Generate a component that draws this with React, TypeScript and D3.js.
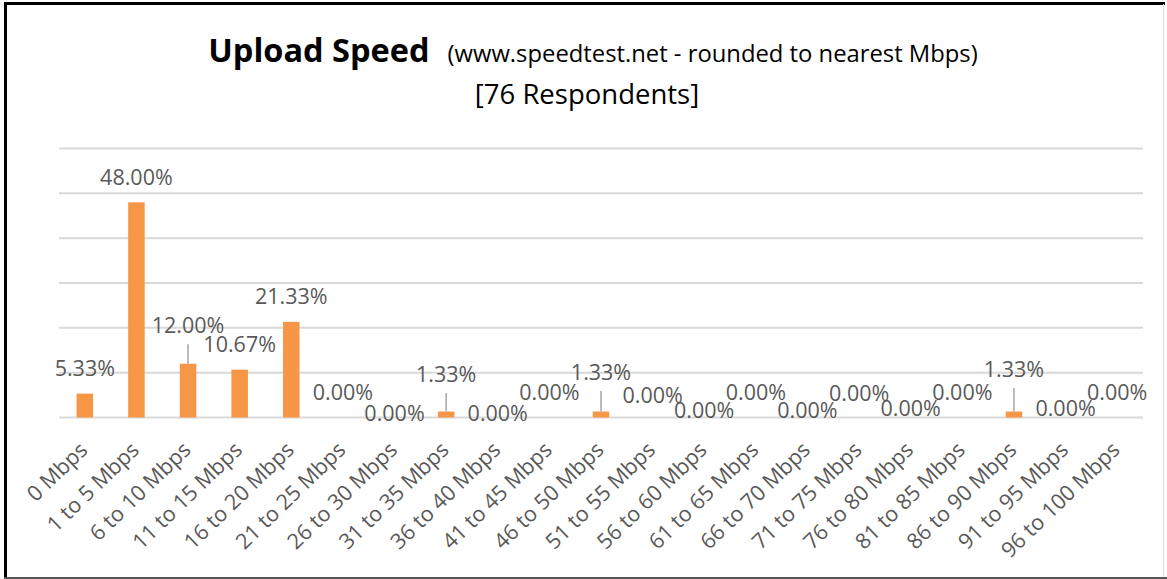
import React from "react";
import * as d3 from "d3";

const categories = [
  "0 Mbps", "1 to 5 Mbps", "6 to 10 Mbps", "11 to 15 Mbps", "16 to 20 Mbps",
  "21 to 25 Mbps", "26 to 30 Mbps", "31 to 35 Mbps", "36 to 40 Mbps", "41 to 45 Mbps",
  "46 to 50 Mbps", "51 to 55 Mbps", "56 to 60 Mbps", "61 to 65 Mbps", "66 to 70 Mbps",
  "71 to 75 Mbps", "76 to 80 Mbps", "81 to 85 Mbps", "86 to 90 Mbps", "91 to 95 Mbps",
  "96 to 100 Mbps",
];
const values = [5.33, 48.0, 12.0, 10.67, 21.33, 0, 0, 1.33, 0, 0, 1.33, 0, 0, 0, 0, 0, 0, 0, 1.33, 0, 0];
const yTicks = [0, 10, 20, 30, 40, 50, 60];

const titleMain = "Upload Speed";
const titleSub = "(www.speedtest.net - rounded to nearest Mbps)";
const titleLine2 = "[76 Respondents]";

// layout: manual data-label nudges (px, + = down) as placed in the original
const labelShift = [0, 0, -13, 0, 0, 0, 21, -12, 21, 0, -14, 3, 18, 0, 18, 1, 16, 0, -17, 16, 0];

const W = 1167;
const H = 579;
const plot = { left: 59, right: 1143, top: 148.5, bottom: 417.5 };
const FONT = "'Open Sans', 'DejaVu Sans', sans-serif";
const labelColor = "#595959";
const barColor = "#F79646";
const gridColor = "#D9D9D9";

export default function App() {
  const x = d3
    .scaleBand<string>()
    .domain(categories)
    .range([plot.left, plot.right])
    .paddingInner(0.68)
    .paddingOuter(0.34);
  const y = d3.scaleLinear().domain([0, 60]).range([plot.bottom, plot.top]);
  const fmt = (v: number) => v.toFixed(2) + "%";

  return (
    <svg
      width={W}
      height={H}
      style={{ position: "absolute", left: 0, top: 0, background: "#fff" }}
    >
      <rect x={0} y={0} width={W} height={H} fill="#fff" />
      {/* frame */}
      <line x1={5.5} y1={2} x2={5.5} y2={579} stroke="#000" strokeWidth={3} />
      <line x1={4} y1={3.5} x2={1165} y2={3.5} stroke="#000" strokeWidth={3} />
      <line x1={4} y1={578} x2={1167} y2={578} stroke="#555" strokeWidth={2} />
      <line x1={1163.5} y1={4} x2={1163.5} y2={577} stroke="#ddd" strokeWidth={1} />

      {/* title */}
      <text x={593} y={62} textAnchor="middle" fontFamily={FONT} fill="#000">
        <tspan fontWeight={700} fontSize={32.5}>{titleMain}</tspan>
        <tspan fontSize={23.8} dx={18}>{titleSub}</tspan>
      </text>
      <text x={587} y={104} textAnchor="middle" fontFamily={FONT} fontSize={27.5} fill="#000">
        {titleLine2}
      </text>

      {/* gridlines */}
      {yTicks.map((t) => (
        <line
          key={t}
          x1={plot.left}
          x2={plot.right}
          y1={y(t)}
          y2={y(t)}
          stroke={gridColor}
          strokeWidth={2}
        />
      ))}

      {/* bars */}
      {categories.map((c, i) => (
        <rect
          key={c}
          x={x(c)}
          y={y(values[i])}
          width={x.bandwidth()}
          height={y(0) - y(values[i])}
          fill={barColor}
        />
      ))}

      {/* leader lines + data labels */}
      {categories.map((c, i) => {
        const cx = (x(c) as number) + x.bandwidth() / 2;
        const top = y(values[i]);
        const base = top - 17.5 + labelShift[i];
        return (
          <g key={"l" + c}>
            {labelShift[i] < -5 && (
              <line x1={cx} x2={cx} y1={base + 11} y2={top} stroke="#A6A6A6" strokeWidth={1.5} />
            )}
            <text
              x={cx}
              y={base}
              textAnchor="middle"
              fontFamily={FONT}
              fontSize={21.5}
              fill={labelColor}
            >
              {fmt(values[i])}
            </text>
          </g>
        );
      })}

      {/* x tick labels */}
      {categories.map((c) => {
        const cx = (x(c) as number) + x.bandwidth() / 2;
        return (
          <text
            key={"t" + c}
            transform={`translate(${cx + 4},${plot.bottom + 34}) rotate(-44)`}
            textAnchor="end"
            fontFamily={FONT}
            fontSize={21.5}
            fill={labelColor}
          >
            {c}
          </text>
        );
      })}
    </svg>
  );
}
